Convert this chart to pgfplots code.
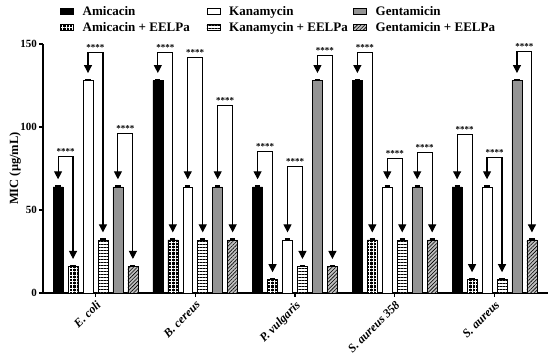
\documentclass[border=0pt]{standalone}
\usepackage{fontspec}
\setmainfont{Liberation Serif}
\usepackage{pgfplots}
\pgfplotsset{compat=1.18}
\usetikzlibrary{patterns.meta, arrows.meta}

\pgfplotsset{myleg/.style={legend image code/.code={\draw[##1] (0pt,-3pt) rectangle (13pt,3pt); \path (22pt,0pt);}}}

\newcommand{\brk}[5]{%
 \draw[line width=1.1pt, {Triangle[width=8pt,length=8pt]}-{Triangle[width=8pt,length=8pt]}]
   (axis cs:#1,#4) -- (axis cs:#1,#3) -- node[above, inner sep=1.5pt, font=\bfseries\fontsize{9}{9}\selectfont]{****} (axis cs:#2,#3) -- (axis cs:#2,#5);
}

\begin{document}
\begin{tikzpicture}
\useasboundingbox (-43pt,-71pt) rectangle (507pt,293pt);
\begin{axis}[
  scale only axis,
  width=505pt, height=249pt,
  xmin=-0.526, xmax=4.536,
  ymin=0, ymax=150,
  ybar,
  clip=false,
  axis x line*=bottom, axis y line*=left,
  axis line style={line width=1.3pt},
  tick style={line width=1.1pt, black},
  tick align=outside,
  major tick length=4pt,
  xtick={0,1,2,3,4},
  xticklabels={E. coli, B. cereus, P. vulgaris, S. aureus 358, S. aureus},
  xticklabel style={rotate=45, anchor=north east, font=\bfseries\itshape\fontsize{12}{12}\selectfont, inner sep=2pt},
  ytick={0,50,100,150},
  yticklabel style={font=\bfseries\fontsize{11}{11}\selectfont, inner sep=2pt},
  /pgf/number format/assume math mode=true,
  ylabel={MIC (μg/mL)},
  ylabel style={font=\bfseries\fontsize{12.5}{12.5}\selectfont, at={(axis description cs:-0.055,0.5)}, anchor=center},
  legend columns=3,
  legend style={at={(axis description cs:0.0337,1.1526)}, anchor=north west, draw=none, fill=none,
    inner sep=0pt, nodes={inner sep=0pt},
    font=\bfseries\fontsize{13}{13}\selectfont, row sep=5.5pt, column sep=0pt},
  legend cell align=left,
  error bars/y dir=plus, error bars/y fixed=0.6,
  error bars/error mark options={line width=1.6pt, mark size=2.6pt, black, rotate=90},
  error bars/error bar style={line width=1.2pt, black},
]
% Amicacin
\addplot[bar width=0.1, bar shift=-0.375, fill=black, draw=black, line width=0.5pt, myleg]
  coordinates {(0,64) (1,128) (2,64) (3,128) (4,64)};
\addlegendentry{\makebox[124pt][l]{Amicacin}}
% Kanamycin
\addplot[bar width=0.1, bar shift=-0.075, fill=white, draw=black, line width=0.5pt, myleg]
  coordinates {(0,128) (1,64) (2,32) (3,64) (4,64)};
\addlegendentry{\makebox[124pt][l]{Kanamycin}}
% Gentamicin
\addplot[bar width=0.1, bar shift=0.225, fill=black!42, draw=black, line width=0.5pt, myleg]
  coordinates {(0,64) (1,64) (2,128) (3,64) (4,128)};
\addlegendentry{Gentamicin}
% Amicacin + EELPa
\addplot[bar width=0.1, bar shift=-0.225, fill=black, draw=black, line width=0.5pt,
  postaction={pattern color=white, pattern={Hatch[angle=0,distance=3.3pt,line width=0.7pt]}}, myleg]
  coordinates {(0,16) (1,32) (2,8) (3,32) (4,8)};
\addlegendentry{\makebox[124pt][l]{Amicacin + EELPa}}
% Kanamycin + EELPa
\addplot[bar width=0.1, bar shift=0.075, fill=white, draw=black, line width=0.5pt,
  postaction={pattern color=black, pattern={Lines[angle=0,distance=3pt,line width=0.6pt]}}, myleg]
  coordinates {(0,32) (1,32) (2,16) (3,32) (4,8)};
\addlegendentry{\makebox[124pt][l]{Kanamycin + EELPa}}
% Gentamicin + EELPa
\addplot[bar width=0.1, bar shift=0.375, fill=black!25, draw=black, line width=0.5pt,
  postaction={pattern color=black, pattern={Lines[angle=45,distance=2.6pt,line width=0.6pt]}}, myleg]
  coordinates {(0,16) (1,32) (2,16) (3,32) (4,32)};
\addlegendentry{Gentamicin + EELPa}

\brk{-0.375}{-0.225}{82}{68.5}{20.5}
\brk{-0.075}{0.075}{145}{132.5}{36.5}
\brk{0.225}{0.375}{96}{68.5}{20.5}
\brk{0.625}{0.775}{145}{132.5}{36.5}
\brk{0.925}{1.075}{142}{68.5}{36.5}
\brk{1.225}{1.375}{113}{68.5}{36.5}
\brk{1.625}{1.775}{85}{68.5}{12.5}
\brk{1.925}{2.075}{76}{36.5}{20.5}
\brk{2.225}{2.375}{143}{132.5}{20.5}
\brk{2.625}{2.775}{145}{132.5}{36.5}
\brk{2.925}{3.075}{81}{68.5}{36.5}
\brk{3.225}{3.375}{84.5}{68.5}{36.5}
\brk{3.625}{3.775}{95.5}{68.5}{12.5}
\brk{3.925}{4.075}{81.5}{68.5}{12.5}
\brk{4.225}{4.375}{145.5}{132.5}{36.5}
\end{axis}
\end{tikzpicture}
\end{document}
